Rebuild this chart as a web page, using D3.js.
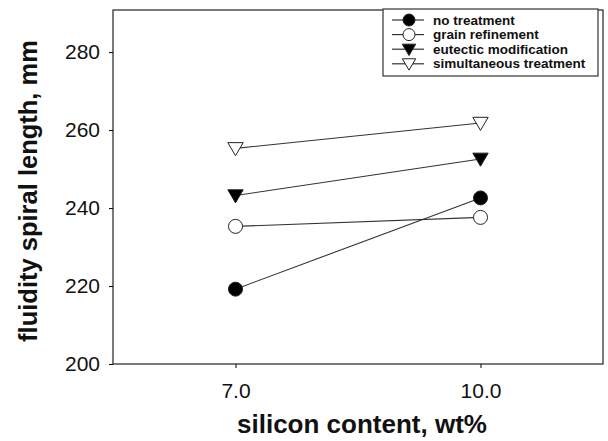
<!DOCTYPE html>
<html>
<head>
<meta charset="utf-8">
<script src="https://cdn.jsdelivr.net/npm/d3@7"></script>
<style>
  body { margin: 0; background: #fff; }
  text { font-family: "Liberation Sans", Arial, sans-serif; fill: #111; }
</style>
</head>
<body>
<div id="chart"></div>
<script>
// data
var silicon = [7.0, 10.0];
var seriesNames = ["no treatment", "grain refinement", "eutectic modification", "simultaneous treatment"];
var noTreatment = [219.2, 242.6];
var grainRefinement = [235.3, 237.6];
var eutecticModification = [243.2, 252.6];
var simultaneousTreatment = [255.3, 261.8];
var yTicks = [200, 220, 240, 260, 280];
var xTicks = [7.0, 10.0];

var width = 608, height = 441;
// plot box (note: "top" is reserved on window, so use pTop)
var pLeft = 113, pRight = 603, pTop = 10, pBottom = 364;

var svg = d3.select("#chart").append("svg")
  .attr("width", width).attr("height", height);

var x = d3.scaleLinear().domain([5.5, 11.5]).range([pLeft, pRight]);
var y = d3.scaleLinear().domain([200, 290.8]).range([pBottom, pTop]);

// frame
svg.append("rect")
  .attr("x", pLeft).attr("y", pTop)
  .attr("width", pRight - pLeft).attr("height", pBottom - pTop)
  .attr("fill", "none").attr("stroke", "#222").attr("stroke-width", 1.2);

var yAxis = svg.append("g")
  .attr("transform", "translate(" + pLeft + ",0)")
  .call(d3.axisLeft(y).tickValues(yTicks).tickSize(4).tickPadding(9).tickFormat(d3.format("d")));
yAxis.select(".domain").remove();
yAxis.selectAll("text").style("font-size", "21px");

var xAxis = svg.append("g")
  .attr("transform", "translate(0," + pBottom + ")")
  .call(d3.axisBottom(x).tickValues(xTicks).tickSize(4).tickPadding(15).tickFormat(d3.format(".1f")));
xAxis.select(".domain").remove();
xAxis.selectAll("text").style("font-size", "21px");

svg.append("text")
  .attr("transform", "translate(37,191) rotate(-90)")
  .attr("text-anchor", "middle")
  .style("font-size", "25.5px").style("font-weight", "bold")
  .text("fluidity spiral length, mm");

svg.append("text")
  .attr("x", 362).attr("y", 433)
  .attr("text-anchor", "middle")
  .style("font-size", "26px").style("font-weight", "bold")
  .text("silicon content, wt%");

var series = [
  { name: seriesNames[0], values: noTreatment, shape: "circle", fill: "#000" },
  { name: seriesNames[1], values: grainRefinement, shape: "circle", fill: "#fff" },
  { name: seriesNames[2], values: eutecticModification, shape: "triangle", fill: "#000" },
  { name: seriesNames[3], values: simultaneousTreatment, shape: "triangle", fill: "#fff" }
];

// down-pointing triangle
function tri(s) {
  return "M" + (-s) + "," + (-s * 0.75) + "L" + s + "," + (-s * 0.75) + "L0," + (s * 0.95) + "Z";
}

function marker(g, d, r) {
  if (d.shape == "circle") {
    g.append("circle").attr("r", r)
      .attr("fill", d.fill).attr("stroke", "#222").attr("stroke-width", 1);
  } else {
    g.append("path").attr("d", tri(r + 0.7))
      .attr("fill", d.fill).attr("stroke", "#222").attr("stroke-width", 1);
  }
}

var line = d3.line()
  .x(function(d, i) { return x(silicon[i]); })
  .y(function(d) { return y(d); });

series.forEach(function(s) {
  svg.append("path")
    .attr("d", line(s.values))
    .attr("fill", "none").attr("stroke", "#333").attr("stroke-width", 1.1);
  s.values.forEach(function(v, i) {
    var g = svg.append("g").attr("transform", "translate(" + x(silicon[i]) + "," + y(v) + ")");
    marker(g, s, 7);
  });
});

// legend
var lg = svg.append("g").attr("transform", "translate(383,9)");
lg.append("rect").attr("width", 215).attr("height", 67)
  .attr("fill", "#fff").attr("stroke", "#333").attr("stroke-width", 1.2);
series.forEach(function(s, i) {
  var row = lg.append("g").attr("transform", "translate(0," + (11 + i * 14.6) + ")");
  row.append("line").attr("x1", 9).attr("x2", 41)
    .attr("stroke", "#333").attr("stroke-width", 1.2);
  var m = row.append("g").attr("transform", "translate(26,0)");
  marker(m, s, 6);
  row.append("text").attr("x", 50).attr("y", 4.5)
    .style("font-size", "13.5px").style("font-weight", "bold")
    .text(s.name);
});
</script>
</body>
</html>
